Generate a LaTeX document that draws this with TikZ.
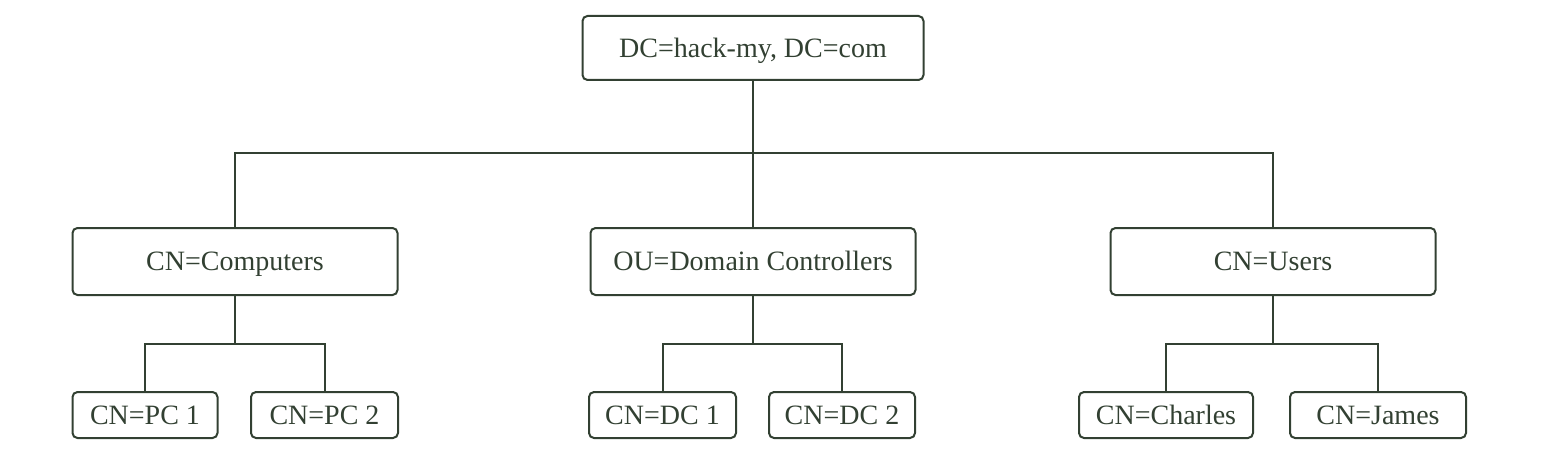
\documentclass[tikz,border=0pt]{standalone}
\usepackage{fontspec}
\setmainfont{Liberation Serif}
\usetikzlibrary{positioning}
\definecolor{ink}{RGB}{50,64,50}

\begin{document}
\begin{tikzpicture}[x=0.5pt, y=-0.5pt, line width=1pt, draw=ink, text=ink,
    box/.style={draw=ink, rounded corners=2.5pt, inner sep=0pt, text height=9.3pt, text depth=0pt,
      font=\fontsize{14}{16}\selectfont},
    topbox/.style={box, minimum width=170.5pt, minimum height=32pt},
    midbox/.style={box, minimum width=162.5pt, minimum height=33.5pt},
    leafbox/.style={box, minimum width=#1, minimum height=23pt}]
  \useasboundingbox (0,0) rectangle (1541,460);

  % top level
  \node[topbox] (root) at (753,48) {DC=hack-my, DC=com};

  % second level
  \node[midbox] (comp)  at (235,261.5)  {CN=Computers};
  \node[midbox] (dcs)   at (753,261.5)  {OU=Domain Controllers};
  \node[midbox] (users) at (1273,261.5) {CN=Users};

  % leaves
  \node[leafbox=72.5pt] (pc1) at (145,415)    {CN=PC 1};
  \node[leafbox=73.5pt] (pc2) at (324.5,415)  {CN=PC 2};
  \node[leafbox=73.5pt] (dc1) at (662.5,415)  {CN=DC 1};
  \node[leafbox=73pt]   (dc2) at (842,415)    {CN=DC 2};
  \node[leafbox=87pt]   (ch)  at (1166,415)   {CN=Charles};
  \node[leafbox=88pt]   (jm)  at (1378,415)   {CN=James};

  % connectors
  \coordinate (hub) at (753,153);
  \draw (root.south) -- (dcs.north);
  \draw (comp.north) |- (hub) -| (users.north);

  \draw (comp.south) -- ++(0,48) coordinate (cbar);
  \draw (pc1.north) |- (cbar) -| (pc2.north);
  \draw (dcs.south) -- ++(0,48) coordinate (dbar);
  \draw (dc1.north) |- (dbar) -| (dc2.north);
  \draw (users.south) -- ++(0,48) coordinate (ubar);
  \draw (ch.north) |- (ubar) -| (jm.north);
\end{tikzpicture}
\end{document}
